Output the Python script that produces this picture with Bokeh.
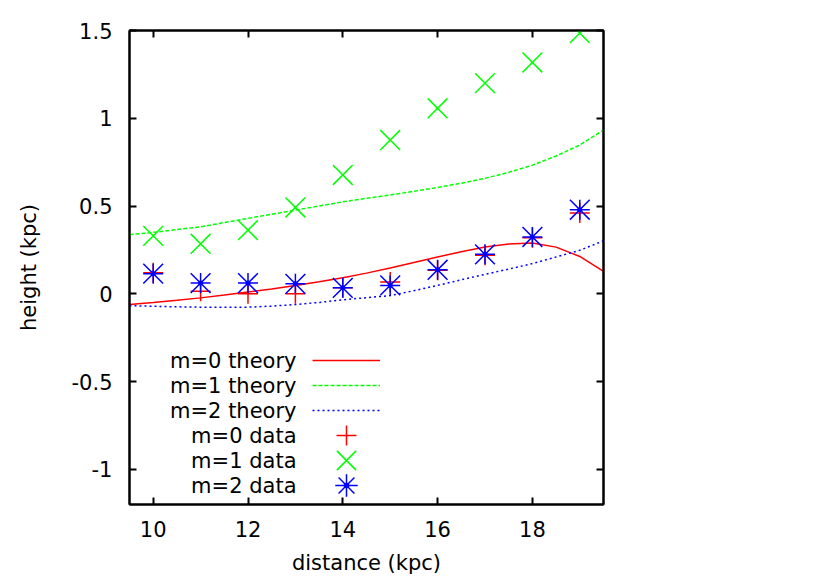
from bokeh.plotting import figure
from bokeh.models import Legend, LegendItem, Label, LinearAxis, FixedTicker, Range1d
from bokeh.embed import file_html
from bokeh.resources import INLINE

# ---- data ----
distance_data = [10, 11, 12, 13, 14, 15, 16, 17, 18, 19]
m0_data = [0.12, 0.015, 0.0, 0.0, 0.034, 0.067, 0.135, 0.22, 0.32, 0.46]
m1_data = [0.33, 0.285, 0.363, 0.492, 0.677, 0.876, 1.057, 1.2, 1.318, 1.485]
m2_data = [0.115, 0.061, 0.061, 0.057, 0.034, 0.048, 0.137, 0.225, 0.324, 0.479]

distance_theory = [9.5, 10.0, 10.5, 11.0, 11.5, 12.0, 12.5, 13.0, 13.5, 14.0, 14.5,
                   15.0, 15.5, 16.0, 16.5, 17.0, 17.5, 18.0, 18.5, 19.0, 19.5]
m0_theory = [-0.061, -0.05, -0.037, -0.023, -0.007, 0.01, 0.028, 0.048, 0.069, 0.092, 0.118,
             0.147, 0.178, 0.21, 0.24, 0.267, 0.284, 0.29, 0.266, 0.213, 0.128]
m1_theory = [0.337, 0.35, 0.366, 0.382, 0.406, 0.43, 0.453, 0.477, 0.50, 0.524, 0.544,
             0.563, 0.584, 0.606, 0.63, 0.658, 0.692, 0.733, 0.785, 0.848, 0.933]
m2_theory = [-0.067, -0.071, -0.074, -0.076, -0.077, -0.076, -0.07, -0.061, -0.049, -0.034, -0.022,
             -0.01, 0.018, 0.048, 0.08, 0.111, 0.141, 0.172, 0.21, 0.248, 0.302]

x_ticks = [10, 12, 14, 16, 18]
x_tick_labels = ["10", "12", "14", "16", "18"]
y_ticks = [-1, -0.5, 0, 0.5, 1, 1.5]
y_tick_labels = ["-1", "-0.5", "0", "0.5", "1", "1.5"]
legend_labels = ["m=0 theory", "m=1 theory", "m=2 theory", "m=0 data", "m=1 data", "m=2 data"]

# ---- styling ----
FONT = "DejaVu Sans"
FS = "21px"
RED, GREEN, BLUE = "#ff0000", "#00ff00", "#0000ff"

p = figure(width=633, height=580,
           x_range=Range1d(9.5, 19.5), y_range=Range1d(-1.2, 1.5),
           output_backend="svg", toolbar_location=None,
           min_border_left=129, min_border_top=30, min_border_right=30, min_border_bottom=76,
           x_axis_label="distance (kpc)", y_axis_label="height (kpc)")
p.grid.visible = False
p.outline_line_color = "black"
p.outline_line_width = 2
p.background_fill_color = "white"
p.border_fill_color = "white"


def style_axis(ax, ticks, labels, show):
    ax.ticker = FixedTicker(ticks=ticks)
    ax.axis_line_color = "black"
    ax.axis_line_width = 2
    ax.major_tick_in = 7
    ax.major_tick_out = 0
    ax.major_tick_line_width = 2
    ax.major_tick_line_color = "black"
    ax.minor_tick_line_color = None
    ax.major_label_text_font = FONT
    ax.major_label_text_font_size = FS
    ax.major_label_text_color = "black"
    ax.axis_label_text_font = FONT
    ax.axis_label_text_font_size = FS
    ax.axis_label_text_font_style = "normal"
    ax.axis_label_text_color = "black"
    if show:
        ax.major_label_overrides = {t: s for t, s in zip(ticks, labels)}
    else:
        ax.major_label_overrides = {t: "" for t in ticks}
        ax.major_label_standoff = 0


style_axis(p.xaxis[0], x_ticks, x_tick_labels, True)
style_axis(p.yaxis[0], y_ticks, y_tick_labels, True)
p.xaxis[0].major_label_standoff = 16
p.xaxis[0].axis_label_standoff = 11
p.yaxis[0].major_label_standoff = 17
p.yaxis[0].axis_label_standoff = 28

top_ax = LinearAxis()
right_ax = LinearAxis()
style_axis(top_ax, x_ticks, x_tick_labels, False)
style_axis(right_ax, y_ticks, y_tick_labels, False)
p.add_layout(top_ax, "above")
p.add_layout(right_ax, "right")

# ---- series ----
r_m0t = p.line(distance_theory, m0_theory, line_color=RED, line_width=1.5)
r_m1t = p.line(distance_theory, m1_theory, line_color=GREEN, line_width=1.5, line_dash="4 2")
r_m2t = p.line(distance_theory, m2_theory, line_color=BLUE, line_width=1.5, line_dash="2 3")
r_m0d = p.scatter(distance_data, m0_data, marker="cross", size=20, line_color=RED, line_width=1.5)
r_m1d = p.scatter(distance_data, m1_data, marker="x", size=28, line_color=GREEN, line_width=1.5)
r_m2a = p.scatter(distance_data, m2_data, marker="cross", size=20, line_color=BLUE, line_width=1.5)
r_m2b = p.scatter(distance_data, m2_data, marker="x", size=28, line_color=BLUE, line_width=1.5)
r_m2c = p.scatter(distance_data, m2_data, marker="dot", size=20, line_color=BLUE, fill_color=BLUE)

# ---- key: one single-entry legend per row (gnuplot style, text right-aligned on the left) ----
groups = [[r_m0t], [r_m1t], [r_m2t], [r_m0d], [r_m1d], [r_m2a, r_m2b, r_m2c]]
# legend sample box heights (marker size in a legend = 0.4 * box height)
box_heights = [50, 50, 50, 50, 68, 56]
n = len(groups)
ROW = 25
for k, g in enumerate(groups):
    center = 19 + ROW * (n - 1 - k)
    gh = box_heights[k]
    p.add_layout(Legend(items=[LegendItem(label=" ", renderers=g)],
                        location=(183, center - gh / 2), orientation="vertical",
                        padding=0, margin=0, spacing=0,
                        glyph_width=68, glyph_height=gh, label_width=0, label_height=gh,
                        label_standoff=0, label_text_font_size="10px",
                        border_line_color=None, background_fill_alpha=0))
    p.add_layout(Label(x=167, y=center,
                       x_units="screen", y_units="screen", text=legend_labels[k],
                       text_align="right", text_baseline="middle",
                       text_font=FONT, text_font_size=FS, text_color="black"))

open("out.html", "w").write(file_html(p, INLINE))
